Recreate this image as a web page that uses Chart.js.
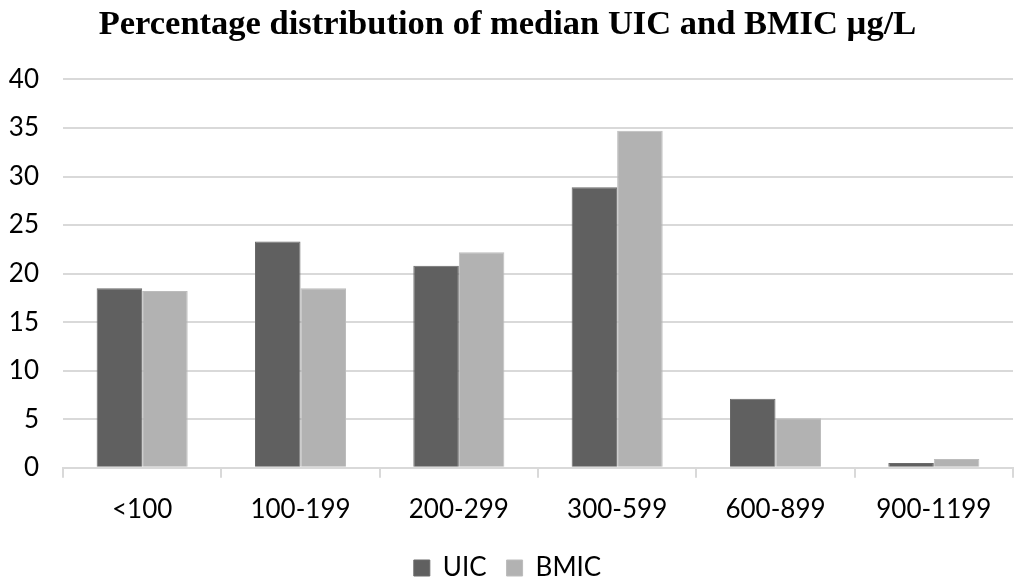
<!DOCTYPE html>
<html>
<head>
<meta charset="utf-8">
<script src="https://cdn.jsdelivr.net/npm/chart.js@4/dist/chart.umd.min.js"></script>
<style>
  html, body { margin: 0; padding: 0; background: #fff; }
  #wrap { width: 1024px; height: 582px; }
</style>
</head>
<body>
<div id="wrap"><canvas id="barChart"></canvas></div>
<script>
const categories = ['<100', '100-199', '200-299', '300-599', '600-899', '900-1199'];
const uicValues = [18.5, 23.3, 20.8, 28.9, 7.1, 0.5];
const bmicValues = [18.2, 18.5, 22.2, 34.7, 5.1, 0.9];
const yTicks = [0, 5, 10, 15, 20, 25, 30, 35, 40];

const tickFont = { family: 'Lato, "Open Sans", sans-serif', size: 26 };

const data = {
  labels: categories,
  datasets: [{
    label: 'UIC',
    data: uicValues,
    backgroundColor: '#606060',
    borderColor: '#6a6a6a',
    borderWidth: 1
  }, {
    label: 'BMIC',
    data: bmicValues,
    backgroundColor: '#b2b2b2',
    borderColor: '#bcbcbc',
    borderWidth: 1
  }]
};

const config = {
  type: 'bar',
  data: data,
  options: {
    responsive: true,
    maintainAspectRatio: false,
    animation: false,
    datasets: { bar: { categoryPercentage: 0.575, barPercentage: 1 } },
    layout: { padding: { left: 2, right: 11, top: 2, bottom: -9 } },
    plugins: {
      title: {
        display: true,
        text: 'Percentage distribution of median UIC and BMIC \u00b5g/L',
        color: '#000',
        font: { family: '"Liberation Serif", serif', size: 34.5, weight: 'bold' },
        padding: { top: 2, bottom: 34 }
      },
      legend: {
        position: 'bottom',
        labels: {
          color: '#000',
          font: tickFont,
          boxWidth: 16,
          boxHeight: 16,
          padding: 20
        }
      },
      tooltip: { enabled: false }
    },
    scales: {
      x: {
        offset: true,
        grid: {
          offset: true,
          drawOnChartArea: false,
          color: '#d9d9d9',
          lineWidth: 2,
          tickLength: 10
        },
        border: { color: '#d9d9d9', width: 2 },
        ticks: { color: '#000', font: tickFont, padding: 16 },
        afterFit: s => { s.height -= 6; }
      },
      y: {
        min: 0,
        max: 40,
        afterBuildTicks: axis => { axis.ticks = yTicks.map(v => ({ value: v })); },
        afterFit: s => { s.width = 61; },
        grid: { color: '#d9d9d9', lineWidth: 2, drawTicks: false },
        border: { display: false },
        ticks: { color: '#000', font: tickFont, padding: 24 }
      }
    }
  }
};

new Chart(document.getElementById('barChart'), config);
</script>
</body>
</html>
